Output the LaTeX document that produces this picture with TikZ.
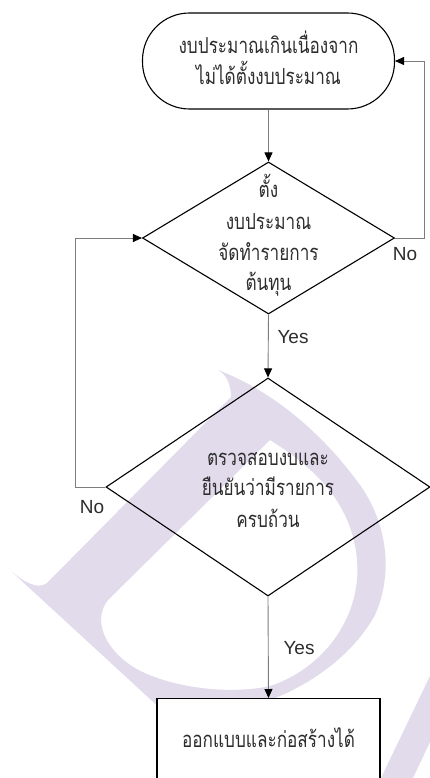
\documentclass[tikz,border=0pt]{standalone}
\usepackage{fontspec}
\setmainfont{Liberation Sans}
\newfontfamily\thaifont[Script=Thai,FakeStretch=0.78]{Loma}
\usetikzlibrary{shapes.geometric,arrows.meta}
\definecolor{wm}{RGB}{226,219,236}
\definecolor{txt}{RGB}{45,45,45}
\definecolor{lne}{RGB}{125,125,125}
\begin{document}
\begin{tikzpicture}[x=1pt,y=-1pt,
  outl/.style={draw=black,line width=1.1pt},
  term/.style={outl,rectangle,rounded corners=47pt,minimum width=252pt,minimum height=96pt,inner sep=0pt},
  dia/.style={outl,diamond,inner sep=0pt},
  proc/.style={outl,fill=white,rectangle,inner sep=0pt},
  th/.style={font=\thaifont\fontsize{22}{26}\selectfont,text=txt,inner sep=0pt,anchor=base},
  lbl/.style={font=\fontsize{19}{21}\selectfont,text=txt,inner sep=0pt},
  conn/.style={draw=lne,line width=0.9pt,-{Triangle[length=9pt,width=8pt,color=black]}}
]
\clip (0,0) rectangle (430,778);
\fill[white] (0,0) rectangle (430,778);
% watermark
\fill[wm, even odd rule] (218,370) .. controls (226,374) and (231,384) .. (231,397) -- (47,583)
  .. controls (38,590) and (24,582) .. (12,572) -- (200,745) -- (245,745) -- (255,705)
  .. controls (300,692) and (350,660) .. (375,615) .. controls (395,570) and (385,520) .. (360,485)
  .. controls (320,430) and (270,390) .. (218,370) -- cycle
  (270,440) .. controls (310,465) and (352,500) .. (357,560) .. controls (362,620) and (320,670) .. (270,686)
  .. controls (230,695) and (170,688) .. (135,668) .. controls (105,650) and (92,620) .. (108,600) -- cycle;
\fill[wm] (430,676) -- (381,778) -- (413,778) -- (430,742) -- cycle;

% shapes
\node[term] (start) at (268.5,61) {};
\node[th] (s1) at (268.5,54) {งบประมาณเกินเนื่องจาก};
\node[th] (s2) at (268.5,85) {ไม่ได้ตั้งงบประมาณ};

\node[dia,minimum width=252pt,minimum height=152pt] (d1) at (268.5,238) {};
\node[th] (d1a) at (268.5,197) {ตั้ง};
\node[th] (d1b) at (268.5,229) {งบประมาณ};
\node[th] (d1c) at (268.5,260) {จัดทำรายการ};
\node[th] (d1d) at (268.5,290) {ต้นทุน};

\node[dia,minimum width=324pt,minimum height=218pt] (d2) at (268,487) {};
\node[th] (d2a) at (268,465) {ตรวจสอบงบและ};
\node[th] (d2b) at (268,495) {ยืนยันว่ามีรายการ};
\node[th] (d2c) at (268,527) {ครบถ้วน};

\node[proc,minimum width=223pt,minimum height=90pt,anchor=north] (box) at (268.5,698) {};
\node[th] (bt) at (268.5,747) {ออกแบบและก่อสร้างได้};

% connectors
\draw[conn] (start.south) -- (d1.north);
\draw[conn] (d1.south) -- (d2.north);
\draw[conn] (d2.south) -- (box.north);
\coordinate (rc) at (424,61);
\draw[conn] (d1.east) -| (rc) -- (start.east);
\coordinate (lc) at (75,238);
\draw[conn] (d2.west) -| (lc) -- (d1.west);

% labels
\node[lbl] (y1) at (293,337) {Yes};
\node[lbl] (y2) at (299,648) {Yes};
\node[lbl] (n1) at (405,254) {No};
\node[lbl] (n2) at (92,507) {No};
\end{tikzpicture}
\end{document}
